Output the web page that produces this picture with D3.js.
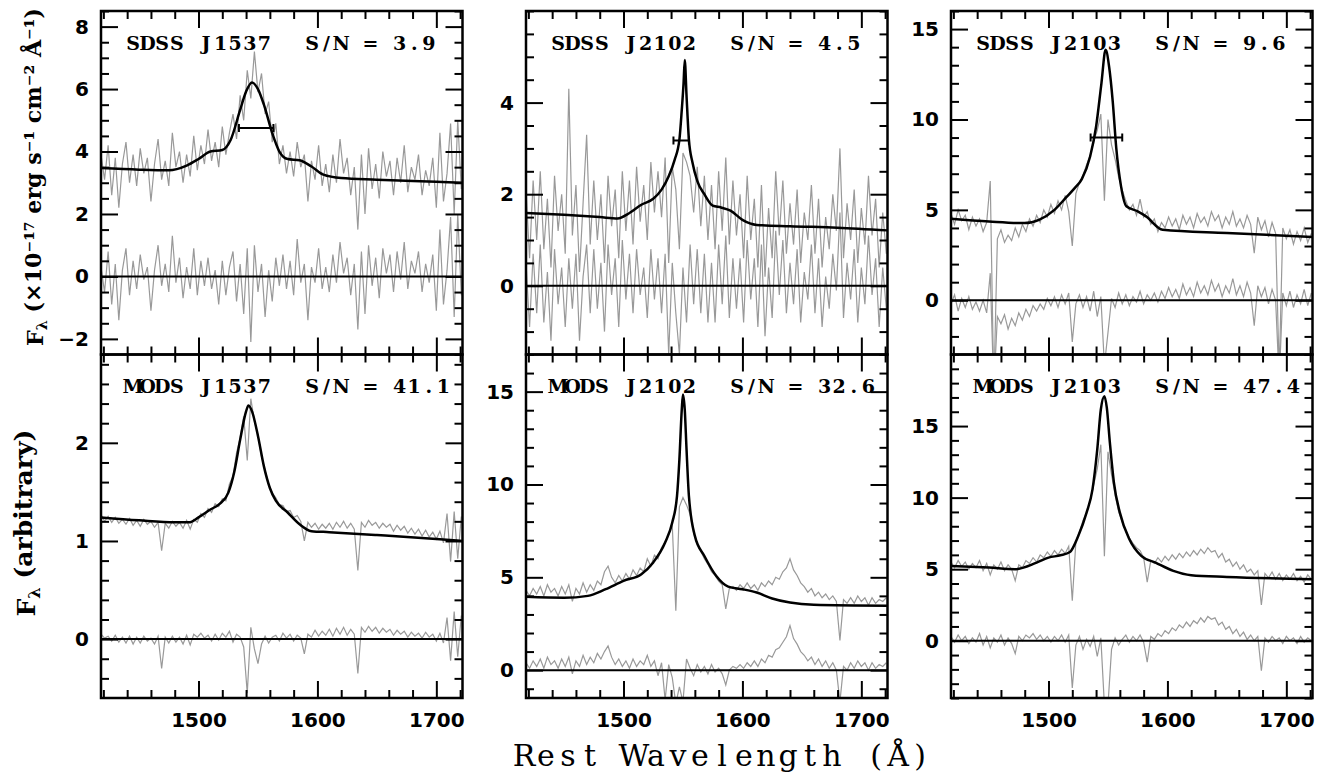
<!DOCTYPE html>
<html lang="en">
<head>
<meta charset="UTF-8">
<title>C IV emission line fits: SDSS and MODS spectra</title>
<style>
  body { margin: 0; background: #fff; }
  svg { display: block; }
</style>
</head>
<body>
<svg id="chart" width="1332" height="780"></svg>

<script src="https://d3js.org/d3.v7.min.js"></script>
<script>
// gray spectra are sampled on a regular grid: 1418 + 3*i Angstrom
const gridStart = 1418;
const gridStep = 3;
const waveRange = [1418, 1722];
const xTickLabels = [1500, 1600, 1700];

// ---- SDSS J1537 ----
const sdssJ1537Flux = [
  3.9, 3.1, 4.2, 2.6, 3.8, 2.2, 3.6, 4.3, 3.0, 3.9,
  2.9, 4.1, 3.3, 3.8, 2.4, 3.6, 4.4, 3.1, 3.7, 2.9,
  4.6, 3.5, 4.0, 3.0, 3.9, 3.2, 4.5, 3.4, 4.2, 3.6,
  4.7, 3.7, 4.3, 3.5, 4.8, 3.9, 4.6, 5.2, 4.4, 5.8,
  5.0, 6.6, 5.7, 7.2, 5.9, 6.5, 5.2, 5.6, 4.3, 4.9,
  3.6, 4.2, 3.3, 4.0, 3.2, 4.3, 3.5, 3.9, 2.4, 3.7,
  3.1, 4.2, 2.9, 3.6, 2.7, 3.9, 3.0, 4.4, 3.3, 3.8,
  2.6, 3.5, 1.5, 3.9, 2.0, 4.1, 2.8, 3.6, 2.5, 4.0,
  3.2, 3.7, 2.6, 3.8, 3.0, 4.2, 2.7, 3.5, 3.1, 3.9,
  2.6, 3.4, 2.9, 3.8, 2.2, 4.6, 2.4, 3.3, 4.9, 2.0,
  5.0, 2.8
];
const sdssJ1537Resid = [
  0.3, -0.5, 0.8, -0.9, 0.4, -1.4, 0.2, 0.9, -0.6, 0.5,
  -0.4, 0.7, -0.1, 0.3, -1.1, 0.2, 1.0, -0.3, 0.4, -0.5,
  1.3, -0.2, 0.6, -0.7, 0.3, -0.4, 0.9, -0.6, 0.5, -0.3,
  0.6, -0.4, 0.2, -0.9, 0.5, -0.6, 0.3, 0.8, -0.8, 0.4,
  -1.2, 0.9, -2.1, 1.0, -0.5, 0.4, -1.3, 0.2, -0.8, 0.6,
  -0.3, 0.7, -0.4, 0.5, -0.6, 1.2, -0.2, 0.4, -1.4, 0.3,
  -0.2, 0.9, -0.4, 0.3, -0.5, 0.7, -0.2, 1.1, 0.1, 0.6,
  -0.6, 0.4, -1.7, 0.8, -1.2, 1.0, -0.3, 0.6, -0.7, 0.9,
  0.1, 0.7, -0.5, 0.8, -0.1, 1.1, -0.4, 0.5, 0.1, 0.8,
  -0.5, 0.4, -0.2, 0.7, -1.1, 1.5, -0.9, 0.2, 1.9, -1.3,
  2.0, -0.6
];
const sdssJ1537Model = [
  [1418, 3.47], [1450, 3.42], [1475, 3.40], [1490, 3.55], [1500, 3.76], [1510, 4.0],
  [1520, 4.05], [1527, 4.37], [1535, 5.33], [1540, 5.92], [1545, 6.21], [1550, 6.0],
  [1555, 5.5], [1562, 4.59], [1568, 4.0], [1575, 3.76], [1585, 3.72], [1595, 3.52],
  [1605, 3.26], [1620, 3.15], [1650, 3.10], [1700, 3.03], [1722, 3.0]
];

// ---- SDSS J2102 ----
const sdssJ2102Flux = [
  2.1, 0.6, 2.3, 1.0, 2.5, 0.8, 1.9, 0.4, 2.4, 1.2,
  2.0, 0.7, 4.3, 1.1, 2.2, 0.3, 1.8, 3.3, 0.9, 2.3,
  1.0, 2.0, 0.5, 2.4, 1.3, 2.1, 0.6, 2.5, 1.2, 2.3,
  0.9, 2.6, 1.4, 2.2, 1.0, 2.7, 1.6, 2.5, 1.5, 2.8,
  0.5, 2.6, 2.1, 0.8, 2.9, 2.7, 2.4, 1.6, 2.6, 1.3,
  2.4, 1.0, 2.2, 0.8, 2.5, 1.2, 2.8, 0.9, 2.3, 1.1,
  2.0, 0.6, 2.4, 1.0, 1.9, 0.4, 2.2, 0.2, 1.7, 0.6,
  2.5, 1.1, 2.3, 0.7, 1.8, 0.9, 2.1, 0.5, 1.6, 1.0,
  2.2, 0.7, 1.9, 0.4, 1.5, 0.8, 2.0, 1.2, 3.0, 0.6,
  1.8, 1.0, 2.1, 0.5, 1.7, 0.9, 2.4, 1.1, 1.9, 0.4,
  1.6, 0.7
];
const sdssJ2102Resid = [
  0.5, -0.9, 0.7, -0.6, 0.9, -0.8, 0.3, -1.2, 0.8, -0.4,
  0.4, -0.9, 0.6, -0.5, 0.7, -1.2, 0.2, 0.9, -0.6, 0.8,
  -0.5, 0.5, -1.0, 0.9, -0.2, 0.6, -0.9, 1.0, -0.3, 0.7,
  -0.6, 0.8, -0.2, 0.4, -0.7, 0.8, -0.3, 0.6, -0.6, 0.7,
  -1.5, 0.5, -0.6, -1.5, 0.4, -0.8, 0.9, -0.4, 0.8, -0.6,
  0.7, -0.8, 0.5, -0.8, 0.9, -0.4, 1.1, -0.7, 0.6, -0.5,
  0.6, -0.8, 1.0, -0.3, 0.6, -0.9, 0.9, -1.1, 0.4, -0.7,
  1.2, -0.2, 1.0, -0.6, 0.5, -0.4, 0.8, -0.8, 0.3, -0.3,
  0.9, -0.6, 0.6, -0.9, 0.2, -0.5, 0.7, -0.1, 1.6, -0.7,
  0.5, -0.3, 0.8, -0.8, 0.4, -0.4, 1.1, -0.2, 0.6, -0.9,
  0.4, -0.5
];
const sdssJ2102Model = [
  [1418, 1.59], [1450, 1.55], [1480, 1.5], [1495, 1.47], [1505, 1.59], [1515, 1.77],
  [1525, 1.9], [1532, 2.1], [1538, 2.39], [1543, 2.75], [1547, 3.19], [1549, 3.84],
  [1550.5, 4.42], [1551.5, 4.93], [1553, 4.15], [1555, 3.19], [1558, 2.69], [1562, 2.29],
  [1568, 2.0], [1575, 1.75], [1582, 1.71], [1590, 1.64], [1600, 1.44], [1612, 1.33],
  [1640, 1.3], [1680, 1.27], [1722, 1.21]
];

// ---- SDSS J2103 ----
const sdssJ2103Flux = [
  4.8, 4.2, 5.0, 4.4, 4.7, 3.9, 4.6, 4.1, 4.5, 3.8,
  4.3, 6.6, -5.0, 3.4, 3.9, 3.2, 3.6, 3.3, 4.0, 3.5,
  4.2, 3.8, 4.5, 4.1, 4.7, 4.3, 5.0, 4.6, 5.3, 4.8,
  5.5, 5.0, 5.8, 4.9, 3.0, 5.9, 6.5, 6.9, 7.5, 8.0,
  8.8, 9.4, 10.3, 5.5, 10.0, 8.6, 7.8, 6.8, 6.1, 5.5,
  5.0, 5.3, 4.7, 5.6, 4.6, 4.9, 4.2, 4.5, 3.8, 4.3,
  4.0, 4.6, 4.1, 4.5, 3.9, 4.7, 4.2, 4.6, 4.0, 4.8,
  4.3, 4.6, 4.1, 4.9, 4.4, 4.7, 4.0, 4.6, 4.2, 4.9,
  4.1, 4.5, 4.0, 4.7, 4.2, 2.6, 4.6, 3.9, 4.4, 3.5,
  4.3, 3.7, -4.0, 4.0, 3.4, 3.9, 3.1, 3.8, 3.3, 4.0,
  3.2, 3.7
];
const sdssJ2103Resid = [
  -0.2, 0.3, -0.6, 0.1, -0.4, 0.2, -0.5, -0.1, -0.6, 0.0,
  -0.7, 1.5, -5.0, -0.9, -1.3, -0.8, -1.6, -1.0, -1.4, -0.7,
  -1.1, -0.5, -0.9, -0.3, -0.6, -0.2, -0.5, 0.1, -0.3, 0.2,
  -0.4, 0.3, -0.2, 0.4, -2.3, -0.2, 0.3, -0.4, 0.2, -0.6,
  0.5, -0.9, 0.2, -3.6, -1.8, 0.1, -0.4, 0.4, -0.2, 0.3,
  -0.3, 0.2, -0.1, 0.5, -0.2, 0.3, 0.0, 0.4, -0.1, 0.5,
  0.1, 0.7, 0.2, 0.6, 0.1, 0.9, 0.3, 0.7, 0.2, 1.0,
  0.4, 0.8, 0.3, 1.1, 0.5, 0.9, 0.2, 0.8, 0.4, 1.2,
  0.3, 0.8, 0.2, 1.0, 0.4, -1.4, 0.8, 0.2, 0.7, -0.2,
  0.6, 0.0, -4.5, 0.4, -0.3, 0.5, -0.4, 0.3, -0.2, 0.6,
  -0.3, 0.4
];
const sdssJ2103Model = [
  [1418, 4.51], [1450, 4.36], [1480, 4.27], [1492, 4.45], [1505, 5.0], [1515, 5.7],
  [1522, 6.2], [1528, 6.7], [1535, 7.95], [1540, 9.6], [1544.5, 12.0], [1548, 13.85],
  [1551, 12.9], [1554, 11.0], [1557, 8.4], [1561, 6.3], [1565.5, 5.2], [1575, 4.92],
  [1582, 4.64], [1596, 3.9], [1650, 3.72], [1722, 3.5]
];

// ---- MODS J1537 ----
const modsJ1537Flux = [
  1.27, 1.20, 1.25, 1.19, 1.24, 1.18, 1.22, 1.17, 1.23, 1.16,
  1.21, 1.15, 1.22, 1.17, 1.20, 1.14, 1.19, 0.90, 1.18, 1.13,
  1.20, 1.15, 1.19, 1.13, 1.21, 1.12, 1.22, 1.19, 1.28, 1.24,
  1.33, 1.29, 1.38, 1.35, 1.43, 1.41, 1.58, 1.66, 1.90, 2.05,
  2.27, 1.82, 2.45, 2.22, 2.08, 1.86, 1.72, 1.58, 1.49, 1.44,
  1.37, 1.36, 1.30, 1.31, 1.24, 1.26, 1.20, 1.00, 1.19, 1.14,
  1.18, 1.12, 1.17, 1.13, 1.18, 1.12, 1.19, 1.14, 1.20, 1.13,
  1.18, 1.12, 0.70, 1.19, 1.14, 1.21, 1.16, 1.19, 1.13, 1.18,
  1.14, 1.17, 1.10, 1.16, 1.11, 1.15, 1.08, 1.13, 1.07, 1.12,
  1.05, 1.11, 1.04, 1.09, 1.02, 1.10, 0.98, 1.28, 0.79, 1.30,
  0.82, 1.25
];
const modsJ1537Resid = [
  0.05, 0.01, 0.03, -0.02, 0.04, -0.03, 0.02, -0.04, 0.03, -0.05,
  0.02, -0.04, 0.03, -0.02, 0.01, -0.05, 0.03, -0.30, 0.02, -0.04,
  0.03, -0.03, 0.02, -0.05, 0.04, -0.06, 0.05, 0.02, 0.06, 0.01,
  0.04, -0.02, 0.05, -0.01, 0.06, 0.02, 0.08, -0.03, 0.05, 0.02,
  -0.08, -0.55, 0.12, -0.10, -0.25, -0.05, 0.03, -0.04, 0.02, 0.04,
  -0.02, 0.06, 0.01, 0.05, -0.02, 0.04, 0.01, -0.15, 0.05, 0.02,
  0.09, 0.03, 0.08, 0.04, 0.10, 0.03, 0.11, 0.05, 0.12, 0.04,
  0.10, 0.05, -0.35, 0.12, 0.07, 0.13, 0.08, 0.12, 0.06, 0.11,
  0.07, 0.10, 0.04, 0.09, 0.05, 0.08, 0.02, 0.07, 0.03, 0.06,
  0.01, 0.07, 0.02, 0.05, -0.02, 0.06, -0.04, 0.22, -0.22, 0.28,
  -0.18, 0.24
];
const modsJ1537Model = [
  [1418, 1.24], [1450, 1.21], [1480, 1.19], [1492, 1.19], [1500, 1.24], [1510, 1.32],
  [1518, 1.38], [1525, 1.49], [1530, 1.70], [1535, 2.03], [1540, 2.32], [1542, 2.38],
  [1545, 2.32], [1550, 2.07], [1555, 1.76], [1560, 1.54], [1565, 1.41], [1575, 1.29],
  [1585, 1.17], [1595, 1.10], [1610, 1.09], [1650, 1.06], [1700, 1.02], [1722, 1.0]
];

// ---- MODS J2102 ----
const modsJ2102Flux = [
  4.3, 4.0, 4.4, 4.1, 4.5, 4.0, 4.6, 4.2, 4.4, 4.0,
  4.5, 4.1, 4.6, 3.7, 4.4, 4.1, 4.7, 4.2, 4.6, 4.3,
  4.8, 4.6, 5.3, 5.6, 5.0, 4.7, 5.1, 4.8, 5.2, 4.9,
  5.4, 5.1, 5.5, 5.3, 6.0, 5.6, 6.2, 6.0, 6.6, 6.9,
  7.3, 7.8, 3.2, 8.8, 9.3, 8.9, 8.4, 7.4, 6.8, 6.4,
  6.0, 5.7, 5.3, 5.1, 4.8, 4.6, 3.3, 4.4, 4.5, 4.3,
  4.6, 4.4, 4.7, 4.4, 4.6, 4.3, 4.7, 4.5, 4.8, 4.6,
  5.0, 4.9, 5.3, 5.5, 6.0, 5.4, 5.1, 4.7, 4.5, 4.2,
  4.4, 4.0, 4.2, 3.9, 4.1, 3.8, 4.0, 3.7, 1.6, 3.8,
  3.6, 3.9, 3.6, 4.0, 3.7, 3.9, 3.5, 3.9, 3.6, 3.8,
  3.7, 3.9
];
const modsJ2102Resid = [
  0.4, 0.1, 0.5, 0.2, 0.6, 0.1, 0.7, 0.3, 0.5, 0.1,
  0.6, 0.2, 0.7, -0.2, 0.5, 0.2, 0.8, 0.3, 0.7, 0.4,
  0.9, 0.6, 1.0, 1.3, 0.7, 0.3, 0.6, 0.2, 0.5, 0.1,
  0.6, 0.2, 0.5, 0.3, 0.8, 0.2, 0.5, -0.3, 0.4, -1.6,
  0.3, -0.4, -1.8, -0.9, -1.7, 0.6, 0.1, -0.3, 0.3, -0.1,
  0.2, -0.2, 0.3, -0.1, 0.1, -0.2, -0.8, 0.0, 0.2, 0.1,
  0.3, 0.1, 0.4, 0.2, 0.5, 0.2, 0.6, 0.4, 0.8, 0.7,
  1.1, 1.2, 1.5, 1.8, 2.4, 1.7, 1.4, 1.0, 0.8, 0.5,
  0.7, 0.3, 0.6, 0.2, 0.5, 0.1, 0.4, 0.0, -1.7, 0.2,
  0.0, 0.4, 0.1, 0.5, 0.2, 0.4, 0.0, 0.4, 0.1, 0.3,
  0.2, 0.4
];
const modsJ2102Model = [
  [1418, 3.95], [1450, 3.9], [1470, 4.0], [1485, 4.36], [1500, 4.81], [1515, 5.17],
  [1525, 5.8], [1535, 6.87], [1541, 7.95], [1545, 9.38], [1547, 11.35], [1549, 14.04],
  [1550, 14.85], [1551.5, 14.04], [1553, 11.89], [1555, 9.38], [1560, 7.23], [1568, 6.15],
  [1578, 5.07], [1588, 4.5], [1600, 4.36], [1612, 4.18], [1625, 3.86], [1640, 3.64],
  [1660, 3.52], [1722, 3.47]
];

// ---- MODS J2103 ----
const modsJ2103Flux = [
  5.5, 5.1, 5.6, 5.2, 5.5, 5.0, 5.4, 5.1, 5.6, 4.9,
  5.4, 4.6, 5.3, 5.0, 5.5, 4.9, 5.3, 5.0, 4.2, 5.3,
  5.1, 5.6, 5.4, 5.8, 5.5, 6.0, 5.8, 6.2, 5.9, 6.3,
  6.0, 6.4, 6.1, 6.6, 2.8, 6.9, 7.6, 8.4, 8.9, 9.8,
  10.9, 12.0, 13.7, 5.9, 13.2, 11.6, 10.2, 9.0, 8.3, 7.7,
  7.2, 6.8, 6.5, 6.3, 5.8, 4.1, 5.6, 5.4, 5.8, 5.5,
  5.9, 5.6, 6.0, 5.7, 6.1, 5.8, 6.2, 5.9, 6.3, 6.0,
  6.4, 6.1, 6.5, 6.2, 6.3, 5.8, 6.1, 5.5, 5.7, 5.2,
  5.5, 5.0, 5.3, 4.8, 5.0, 4.6, 4.9, 2.5, 4.7, 4.4,
  4.8, 4.3, 4.7, 4.2, 4.6, 4.3, 4.7, 4.2, 4.5, 4.1,
  4.6, 4.3
];
const modsJ2103Resid = [
  0.3, -0.1, 0.4, 0.0, 0.3, -0.2, 0.2, -0.1, 0.5, -0.3,
  0.3, -0.5, 0.2, -0.1, 0.4, -0.3, 0.2, -0.2, -0.9, 0.3,
  0.0, 0.4, 0.2, 0.5, 0.1, 0.4, 0.0, 0.3, -0.1, 0.3,
  0.0, 0.4, -0.1, 0.4, -3.3, -0.3, 0.3, -0.6, 0.1, -0.4,
  0.3, -1.1, 0.2, -4.5, -4.5, -0.6, 0.2, -0.3, 0.1, 0.4,
  -0.1, 0.3, 0.0, 0.4, -0.1, -1.5, 0.3, 0.1, 0.5, 0.3,
  0.7, 0.5, 0.9, 0.7, 1.1, 0.9, 1.3, 1.0, 1.4, 1.2,
  1.6, 1.3, 1.7, 1.5, 1.6, 1.1, 1.3, 0.8, 1.0, 0.5,
  0.8, 0.3, 0.6, 0.1, 0.4, 0.0, 0.3, -2.1, 0.2, -0.1,
  0.3, 0.0, 0.2, -0.2, 0.3, 0.0, 0.2, -0.2, 0.3, -0.1,
  0.2, 0.0
];
const modsJ2103Model = [
  [1418, 5.23], [1450, 5.11], [1472, 5.0], [1490, 5.46], [1500, 5.81], [1510, 5.97],
  [1518, 6.2], [1525, 7.32], [1532, 8.95], [1537, 10.58], [1541, 13.37], [1544, 16.16],
  [1547, 17.09], [1549, 16.3], [1551.6, 13.84], [1555, 11.05], [1560, 8.95], [1568, 7.09],
  [1578, 5.93], [1590, 5.46], [1605, 4.88], [1620, 4.58], [1650, 4.46], [1722, 4.3]
];

// FWHM bars drawn on the SDSS fits: [from, to, flux level]
const sdssJ1537Fwhm = [1534, 1563, 4.75];
const sdssJ2102Fwhm = [1542, 1555, 3.17];
const sdssJ2103Fwhm = [1535.4, 1562, 9.0];

const panels = [
  { name: 'SDSS J1537', sn: 'S/N = 3.9', flux: sdssJ1537Flux, resid: sdssJ1537Resid, model: sdssJ1537Model,
    fwhm: sdssJ1537Fwhm, yDomain: [-2.5, 8.5], yTicks: [-2, 0, 2, 4, 6, 8], yMinor: 0.5, col: 0, row: 0 },
  { name: 'SDSS J2102', sn: 'S/N = 4.5', flux: sdssJ2102Flux, resid: sdssJ2102Resid, model: sdssJ2102Model,
    fwhm: sdssJ2102Fwhm, yDomain: [-1.5, 6], yTicks: [0, 2, 4], yMinor: 0.5, col: 1, row: 0 },
  { name: 'SDSS J2103', sn: 'S/N = 9.6', flux: sdssJ2103Flux, resid: sdssJ2103Resid, model: sdssJ2103Model,
    fwhm: sdssJ2103Fwhm, yDomain: [-3, 16], yTicks: [0, 5, 10, 15], yMinor: 1, col: 2, row: 0 },
  { name: 'MODS J1537', sn: 'S/N = 41.1', flux: modsJ1537Flux, resid: modsJ1537Resid, model: modsJ1537Model,
    fwhm: null, yDomain: [-0.6, 2.9], yTicks: [0, 1, 2], yMinor: 0.2, col: 0, row: 1 },
  { name: 'MODS J2102', sn: 'S/N = 32.6', flux: modsJ2102Flux, resid: modsJ2102Resid, model: modsJ2102Model,
    fwhm: null, yDomain: [-1.5, 17], yTicks: [0, 5, 10, 15], yMinor: 1, col: 1, row: 1 },
  { name: 'MODS J2103', sn: 'S/N = 47.4', flux: modsJ2103Flux, resid: modsJ2103Resid, model: modsJ2103Model,
    fwhm: null, yDomain: [-4, 20], yTicks: [0, 5, 10, 15], yMinor: 1, col: 2, row: 1 }
];

// layout
const colLeft = [101, 526, 951];
const rowTop = [11, 354.5];
const panelW = 361.5;
const panelH = 343.5;
const majorLen = 17, minorLen = 8;
const gray = '#999';
const serif = '"DejaVu Serif"';
const sans = '"DejaVu Sans"';

const svg = d3.select('#chart');

// put each character in its own fixed-width cell (monospace look)
function monoText(parent, str, cx0, baseY, advance) {
  const chars = Array.from(str);
  return parent.append('text')
    .attr('x', chars.map((c, i) => (cx0 + i * advance).toFixed(1)).join(' '))
    .attr('y', baseY)
    .attr('text-anchor', 'middle')
    .style('font-family', serif)
    .text(str);
}

function addTicks(g, axisFn, scale, values, len, transform, labels, pad) {
  const axis = axisFn(scale)
    .tickValues(values)
    .tickSizeInner(-len)
    .tickSizeOuter(0)
    .tickPadding(pad || 0)
    .tickFormat(labels ? d3.format('d') : () => '');
  const ag = g.append('g').attr('transform', transform).call(axis);
  ag.select('.domain').remove();
  ag.selectAll('.tick line').attr('stroke', '#000').attr('stroke-width', 2);
  ag.selectAll('.tick text')
    .style('font-family', sans).style('font-weight', 'bold').style('font-size', '20px')
    .attr('fill', '#000');
  return ag;
}

panels.forEach((p, k) => {
  const g = svg.append('g')
    .attr('transform', `translate(${colLeft[p.col]},${rowTop[p.row]})`);

  const x = d3.scaleLinear().domain(waveRange).range([0, panelW]);
  const y = d3.scaleLinear().domain(p.yDomain).range([panelH, 0]);

  g.append('clipPath').attr('id', 'clip' + k)
    .append('rect').attr('width', panelW).attr('height', panelH);
  const plot = g.append('g').attr('clip-path', `url(#clip${k})`);

  const spec = d3.line()
    .x((d, i) => x(gridStart + i * gridStep))
    .y(d => y(d));

  plot.append('path').attr('d', spec(p.flux))
    .attr('fill', 'none').attr('stroke', gray).attr('stroke-width', 1.2);
  plot.append('path').attr('d', spec(p.resid))
    .attr('fill', 'none').attr('stroke', gray).attr('stroke-width', 1.2);

  plot.append('line')
    .attr('x1', 0).attr('x2', panelW)
    .attr('y1', y(0)).attr('y2', y(0))
    .attr('stroke', '#000').attr('stroke-width', 2);

  const fit = d3.line()
    .x(d => x(d[0]))
    .y(d => y(d[1]))
    .curve(d3.curveMonotoneX);
  plot.append('path').attr('d', fit(p.model))
    .attr('fill', 'none').attr('stroke', '#000').attr('stroke-width', 2.5)
    .attr('stroke-linejoin', 'round');

  if (p.fwhm) {
    const [w0, w1, lev] = p.fwhm;
    const bar = plot.append('g').attr('stroke', '#000').attr('stroke-width', 2);
    bar.append('line').attr('x1', x(w0)).attr('x2', x(w1)).attr('y1', y(lev)).attr('y2', y(lev));
    [w0, w1].forEach(w => bar.append('line')
      .attr('x1', x(w)).attr('x2', x(w))
      .attr('y1', y(lev) - 4).attr('y2', y(lev) + 4));
  }

  // ticks on all four sides, pointing inward
  const xMinorTicks = d3.range(1420, 1721, 20).filter(v => !xTickLabels.includes(v));
  const [ya, yb] = p.yDomain;
  const yMinorTicks = d3.range(Math.ceil(ya / p.yMinor) * p.yMinor, yb + 1e-9, p.yMinor)
    .map(v => +v.toFixed(3))
    .filter(v => !p.yTicks.some(t => Math.abs(t - v) < 1e-6));

  const bottomRow = p.row === 1;
  addTicks(g, d3.axisBottom, x, xTickLabels, majorLen, `translate(0,${panelH})`, bottomRow, 15);
  addTicks(g, d3.axisBottom, x, xMinorTicks, minorLen, `translate(0,${panelH})`, false);
  addTicks(g, d3.axisTop, x, xTickLabels, majorLen, 'translate(0,0)', false);
  addTicks(g, d3.axisTop, x, xMinorTicks, minorLen, 'translate(0,0)', false);
  addTicks(g, d3.axisLeft, y, p.yTicks, majorLen, 'translate(0,0)', true, 12);
  addTicks(g, d3.axisLeft, y, yMinorTicks, minorLen, 'translate(0,0)', false);
  addTicks(g, d3.axisRight, y, p.yTicks, majorLen, `translate(${panelW},0)`, false);
  addTicks(g, d3.axisRight, y, yMinorTicks, minorLen, `translate(${panelW},0)`, false);

  g.append('rect')
    .attr('width', panelW).attr('height', panelH)
    .attr('fill', 'none').attr('stroke', '#000').attr('stroke-width', 2.5);

  [[p.name, 32], [p.sn, 211]].forEach(([str, cx]) =>
    monoText(g, str, cx, 38.5, 14.6)
      .style('font-weight', 'bold').style('font-size', '19px'));
});

// axis titles
function fitText(sel, target) {
  const fs = parseFloat(sel.style('font-size'));
  const len = sel.node().getComputedTextLength();
  sel.style('font-size', (fs * target / len).toFixed(2) + 'px');
}

const yTitleTop = svg.append('text')
  .style('font-family', serif).style('font-size', '20px').style('font-weight', 'bold')
  .attr('text-anchor', 'middle')
  .attr('transform', 'translate(43,177) rotate(-90)');
yTitleTop.append('tspan').text('F');
yTitleTop.append('tspan').attr('font-size', '65%').attr('dy', '0.3em').text('λ');
yTitleTop.append('tspan').attr('dy', '-0.3em').text(' (×10⁻¹⁷ erg s⁻¹ cm⁻² Å⁻¹)');
fitText(yTitleTop, 338);

const yTitleBottom = svg.append('text')
  .style('font-family', serif).style('font-size', '24px').style('font-weight', 'bold')
  .attr('text-anchor', 'middle')
  .attr('transform', 'translate(35,523) rotate(-90)');
yTitleBottom.append('tspan').text('F');
yTitleBottom.append('tspan').attr('font-size', '65%').attr('dy', '0.3em').text('λ');
yTitleBottom.append('tspan').attr('dy', '-0.3em').text(' (arbitrary)');
fitText(yTitleBottom, 187);

monoText(svg, 'Rest Wavelength (Å)', 524, 766, 22)
  .style('font-size', '30px');
</script>
</body>
</html>
